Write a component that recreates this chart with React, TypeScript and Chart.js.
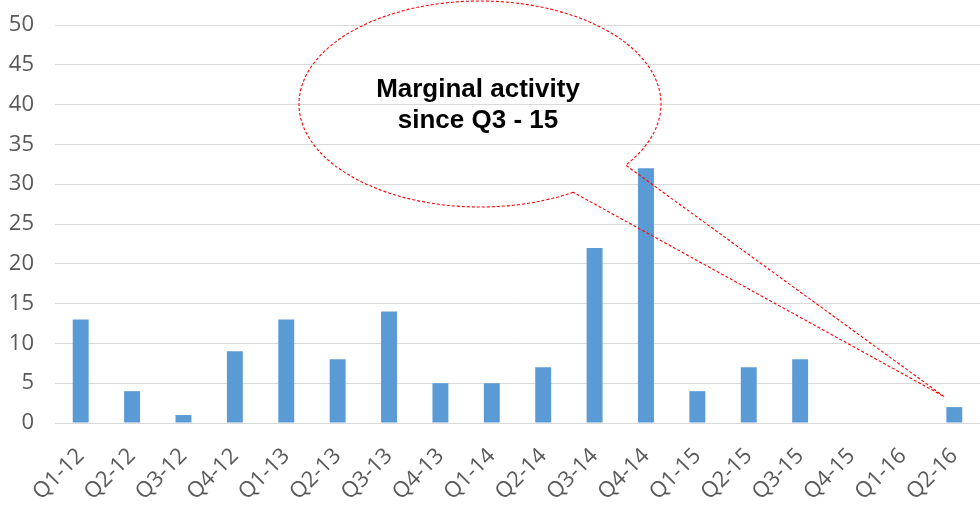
import React, { useEffect, useRef } from "react";
import { Chart, registerables } from "chart.js";

Chart.register(...registerables);

const categories = [
  "Q1-12", "Q2-12", "Q3-12", "Q4-12",
  "Q1-13", "Q2-13", "Q3-13", "Q4-13",
  "Q1-14", "Q2-14", "Q3-14", "Q4-14",
  "Q1-15", "Q2-15", "Q3-15", "Q4-15",
  "Q1-16", "Q2-16",
];
const values = [13, 4, 1, 9, 13, 8, 14, 5, 5, 7, 22, 32, 4, 7, 8, 0, 0, 2];
const yMin = 0;
const yMax = 50;
const yStep = 5;
const calloutLines = ["Marginal activity", "since Q3 - 15"];
const calloutTipIndex = 17;
const calloutTipValue = 3.3;

const calloutPlugin = {
  id: "callout",
  afterDraw(chart: any) {
    const ctx = chart.ctx;
    const xs = chart.scales.x;
    const ys = chart.scales.y;
    const cx = 480, cy = 104, rx = 181, ry = 103;
    const a1 = (59 * Math.PI) / 180;
    const a2 = (36.4 * Math.PI) / 180 + Math.PI * 2;
    const tipX = xs.getPixelForValue(calloutTipIndex) - 10;
    const tipY = ys.getPixelForValue(calloutTipValue);
    ctx.save();
    ctx.beginPath();
    ctx.ellipse(cx, cy, rx, ry, 0, a1, a2, false);
    ctx.lineTo(tipX, tipY);
    ctx.closePath();
    ctx.setLineDash([3, 2]);
    ctx.lineWidth = 1.1;
    ctx.strokeStyle = "#ff0000";
    ctx.stroke();
    ctx.setLineDash([]);
    ctx.fillStyle = "#000000";
    ctx.font = "bold 26px 'Liberation Sans', Arial, sans-serif";
    ctx.textAlign = "center";
    ctx.textBaseline = "alphabetic";
    ctx.fillText(calloutLines[0], 478, 97);
    ctx.fillText(calloutLines[1], 478, 128);
    ctx.restore();
  },
};

export default function App() {
  const ref = useRef<HTMLCanvasElement | null>(null);
  useEffect(() => {
    if (!ref.current) return;
    const chart = new Chart(ref.current, {
      type: "bar",
      data: {
        labels: categories,
        datasets: [
          {
            data: values,
            backgroundColor: "#5B9BD5",
            borderWidth: 0,
            barPercentage: 0.31,
            categoryPercentage: 1,
          },
        ],
      },
      options: {
        responsive: false,
        animation: false,
        events: [],
        layout: { padding: { top: 25, right: 0, left: 0, bottom: 0 } },
        plugins: {
          legend: { display: false },
          tooltip: { enabled: false },
          title: { display: false },
        },
        scales: {
          x: {
            grid: { display: false, drawTicks: false },
            border: { display: true, color: "#d9d9d9", width: 1 },
            ticks: {
              color: "#595959",
              font: { family: "'Open Sans', sans-serif", size: 22 },
              maxRotation: 45,
              minRotation: 45,
              padding: 20,
              autoSkip: false,
            },
            afterFit: (s: any) => {
              s.height = 82;
              s.paddingLeft = 0;
              s.paddingRight = 0;
              s.paddingTop = 0;
              s.paddingBottom = 0;
            },
          },
          y: {
            min: yMin,
            max: yMax,
            grid: { color: "#d9d9d9", lineWidth: 1, drawTicks: false },
            border: { display: false },
            ticks: {
              stepSize: yStep,
              color: "#595959",
              font: { family: "'Open Sans', sans-serif", size: 22 },
              padding: 21,
            },
            afterFit: (s: any) => {
              s.width = 55;
              s.paddingLeft = 0;
              s.paddingRight = 0;
              s.paddingTop = 0;
              s.paddingBottom = 0;
            },
          },
        },
      },
      plugins: [calloutPlugin],
    });
    return () => chart.destroy();
  }, []);
  return (
    <div style={{ position: "absolute", left: 0, top: 0, width: 980, height: 505, background: "#fff" }}>
      <canvas ref={ref} width={980} height={505} style={{ display: "block" }} />
    </div>
  );
}
